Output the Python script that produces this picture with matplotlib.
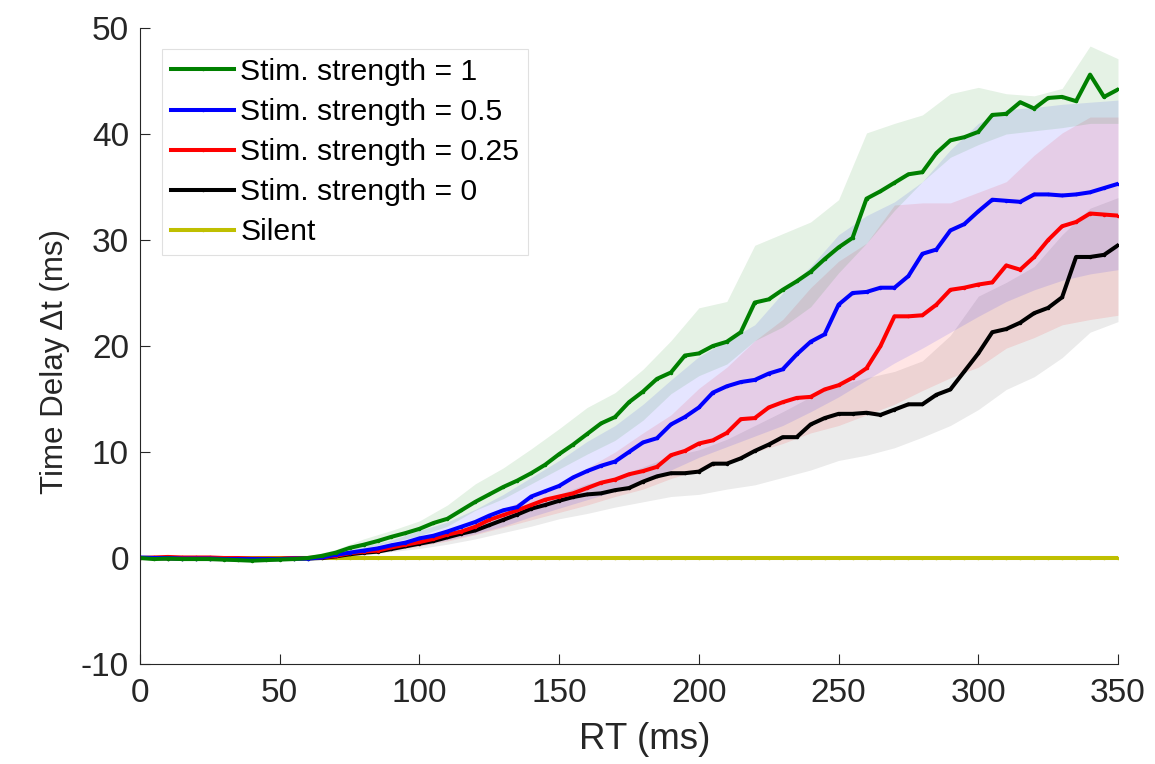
import numpy as np
import matplotlib
matplotlib.use("Agg")
import matplotlib.pyplot as plt

plt.rcParams['font.family'] = ['Liberation Sans', 'DejaVu Sans']
plt.rcParams['axes.unicode_minus'] = False

# ---- data ----
rt = list(range(0, 355, 5))
band_rt = list(range(0, 360, 10))

green = [0.0, -0.1, -0.05, -0.1, -0.1, -0.1, -0.15, -0.2, -0.25, -0.2, -0.15, -0.1, 0.0,
         0.2, 0.5, 0.95, 1.25, 1.6, 2.0, 2.35, 2.75, 3.3, 3.7, 4.5, 5.3, 6.0, 6.7, 7.3,
         8.0, 8.8, 9.8, 10.7, 11.7, 12.7, 13.3, 14.7, 15.7, 16.9, 17.5, 19.1, 19.3, 20.0,
         20.4, 21.3, 24.1, 24.4, 25.3, 26.1, 27.0, 28.2, 29.3, 30.2, 33.9, 34.6, 35.4,
         36.2, 36.4, 38.2, 39.4, 39.7, 40.2, 41.8, 41.9, 43.0, 42.4, 43.4, 43.5, 43.1,
         45.6, 43.5, 44.2]
blue = [0.05, 0.0, 0.0, -0.05, -0.05, -0.05, -0.1, -0.1, -0.1, -0.1, -0.1, -0.05, -0.05,
        0.05, 0.3, 0.5, 0.7, 0.9, 1.2, 1.45, 1.85, 2.1, 2.5, 2.95, 3.4, 4.0, 4.5, 4.8,
        5.8, 6.3, 6.8, 7.6, 8.2, 8.7, 9.1, 10.0, 10.9, 11.3, 12.6, 13.3, 14.2, 15.6,
        16.2, 16.6, 16.8, 17.4, 17.8, 19.2, 20.4, 21.1, 23.9, 25.0, 25.1, 25.5, 25.5,
        26.6, 28.7, 29.1, 30.9, 31.5, 32.7, 33.8, 33.7, 33.6, 34.3, 34.3, 34.2, 34.3,
        34.5, 34.9, 35.3]
red = [0.0, 0.05, 0.1, 0.05, 0.05, 0.05, 0.0, 0.0, -0.05, -0.05, -0.05, 0.0, 0.0,
       0.05, 0.2, 0.45, 0.6, 0.7, 1.0, 1.25, 1.5, 1.8, 2.2, 2.5, 2.95, 3.6, 4.05, 4.5,
       5.0, 5.5, 5.8, 6.1, 6.6, 7.1, 7.4, 7.9, 8.2, 8.6, 9.7, 10.1, 10.8, 11.1, 11.8,
       13.1, 13.2, 14.2, 14.7, 15.1, 15.2, 15.9, 16.3, 17.0, 17.9, 20.0, 22.8, 22.8,
       22.9, 23.9, 25.3, 25.5, 25.8, 26.0, 27.6, 27.2, 28.4, 30.0, 31.3, 31.7, 32.5,
       32.4, 32.3]
black = [0.0, 0.0, -0.05, -0.05, -0.05, -0.1, -0.1, -0.1, -0.1, -0.1, -0.1, -0.05, -0.05,
         0.0, 0.15, 0.35, 0.5, 0.6, 0.85, 1.1, 1.35, 1.6, 1.95, 2.3, 2.6, 3.1, 3.6, 4.1,
         4.65, 5.0, 5.4, 5.75, 6.0, 6.1, 6.4, 6.6, 7.2, 7.7, 8.0, 8.0, 8.15, 8.9, 8.9,
         9.4, 10.1, 10.7, 11.4, 11.4, 12.6, 13.2, 13.6, 13.6, 13.7, 13.5, 14.0, 14.5,
         14.5, 15.4, 15.9, 17.6, 19.3, 21.3, 21.6, 22.2, 23.1, 23.6, 24.6, 28.4, 28.4,
         28.6, 29.5]
silent = [0.0] * len(rt)

green_lo = [-0.1, -0.1, -0.2, -0.25, -0.4, -0.25, -0.1, 0.3, 0.9, 1.5, 2.1, 3.0, 4.5, 5.6,
            7.0, 8.4, 9.8, 11.1, 13.0, 15.5, 17.2, 18.3, 20.5, 21.8, 23.7, 26.9, 29.7,
            32.8, 35.5, 37.8, 39.0, 40.0, 40.3, 40.6, 41.0, 41.0]
green_hi = [0.1, 0.1, 0.05, 0.0, -0.1, 0.05, 0.15, 0.8, 1.8, 2.6, 3.5, 5.0, 7.0, 8.5,
            10.3, 12.2, 14.2, 15.6, 17.8, 20.5, 23.6, 24.2, 29.5, 30.6, 31.7, 33.8, 40.1,
            41.0, 41.8, 43.8, 44.4, 43.8, 43.6, 44.3, 48.3, 47.1]
blue_lo = [-0.05, -0.1, -0.15, -0.2, -0.25, -0.2, -0.15, 0.1, 0.4, 0.8, 1.2, 1.7, 2.3, 3.0,
           3.9, 4.7, 5.5, 6.3, 7.2, 8.3, 9.5, 10.5, 11.5, 12.5, 13.8, 15.2, 16.8, 18.4,
           19.8, 21.3, 22.8, 24.2, 25.3, 26.2, 26.8, 27.2]
blue_hi = [0.1, 0.1, 0.05, 0.05, 0.0, 0.05, 0.1, 0.5, 1.1, 1.7, 2.6, 3.4, 4.6, 6.0, 7.6,
           9.2, 11.0, 12.5, 14.5, 16.8, 19.0, 20.5, 22.0, 25.0, 27.5, 30.5, 32.3, 33.6,
           35.5, 38.5, 41.0, 42.3, 42.5, 42.8, 43.0, 43.2]
red_lo = [-0.1, -0.05, -0.05, -0.1, -0.15, -0.15, -0.1, 0.05, 0.3, 0.7, 1.1, 1.6, 2.2, 2.9,
          3.6, 4.3, 5.0, 5.8, 6.5, 7.5, 8.3, 9.0, 10.0, 10.8, 11.8, 12.5, 13.5, 14.5,
          15.8, 17.0, 18.0, 19.8, 20.8, 22.0, 22.5, 22.9]
red_hi = [0.1, 0.15, 0.15, 0.1, 0.05, 0.05, 0.1, 0.4, 0.9, 1.4, 1.9, 2.6, 3.5, 4.6, 5.8,
          7.0, 8.5, 10.0, 11.8, 13.5, 16.0, 18.0, 20.5, 22.5, 25.5, 28.0, 29.7, 33.3,
          33.5, 33.5, 34.5, 35.5, 38.0, 40.1, 41.6, 41.6]
black_lo = [-0.1, -0.1, -0.15, -0.2, -0.2, -0.2, -0.15, 0.0, 0.25, 0.6, 0.9, 1.3, 1.8, 2.4,
            3.0, 3.7, 4.2, 4.8, 5.3, 5.8, 6.0, 6.5, 6.9, 7.6, 8.3, 9.2, 9.7, 10.4, 11.4,
            12.5, 14.0, 15.9, 17.1, 18.9, 21.3, 22.3]
black_hi = [0.1, 0.05, 0.05, 0.0, 0.0, 0.0, 0.05, 0.3, 0.8, 1.2, 1.7, 2.3, 3.0, 3.9, 5.0,
            6.0, 7.0, 7.6, 8.6, 9.6, 10.2, 11.2, 12.5, 13.8, 15.2, 16.3, 17.0, 17.6, 18.6,
            21.0, 24.7, 26.0, 27.5, 30.5, 33.0, 34.0]

labels = ['Stim. strength = 1', 'Stim. strength = 0.5', 'Stim. strength = 0.25',
          'Stim. strength = 0', 'Silent']

# ---- figure ----
W, H = 1155, 764
fig = plt.figure(figsize=(W / 100, H / 100), dpi=100)
ax = fig.add_axes([140 / W, 1 - 664 / H, (1118 - 140) / W, (664 - 28) / H])

c_green, c_blue, c_red, c_black, c_yel = '#008000', '#0000FF', '#FF0000', '#000000', '#BFBF00'

for lo, hi, c, a in [(black_lo, black_hi, c_black, 0.08), (red_lo, red_hi, c_red, 0.1),
                     (blue_lo, blue_hi, c_blue, 0.1), (green_lo, green_hi, c_green, 0.1)]:
    ax.fill_between(band_rt, lo, hi, color=c, alpha=a, linewidth=0)

lw = 2.9
h_sil, = ax.plot(rt, silent, '.-', color=c_yel, lw=lw, ms=3)
h_k, = ax.plot(rt, black, '.-', color=c_black, lw=lw, ms=3)
h_r, = ax.plot(rt, red, '.-', color=c_red, lw=lw, ms=3)
h_b, = ax.plot(rt, blue, '.-', color=c_blue, lw=lw, ms=3)
h_g, = ax.plot(rt, green, '.-', color=c_green, lw=lw, ms=3)

ax.set_xlim(0, 350)
ax.set_ylim(-10, 50)
ax.set_xticks(range(0, 351, 50))
ax.set_yticks(range(-10, 51, 10))
for s in ['top', 'right']:
    ax.spines[s].set_visible(False)
axc = '#262626'
for s in ['left', 'bottom']:
    ax.spines[s].set_color(axc)
    ax.spines[s].set_linewidth(0.8)
ax.tick_params(direction='in', length=7, width=0.8, color=axc, labelcolor=axc,
               labelsize=24)
ax.tick_params(axis='x', pad=10)
ax.tick_params(axis='y', pad=8)

ax.set_xlabel('RT (ms)', fontsize=26.5, color=axc)
ax.set_ylabel('Time Delay Δt (ms)', fontsize=22.5, color=axc)
ax.xaxis.set_label_coords((645 - 140) / 978, (664 - 722) / 636)
ax.yaxis.set_label_coords((70 - 140) / 978, (664 - 361) / 636)

leg = ax.legend([h_g, h_b, h_r, h_k, h_sil], labels, loc='upper left',
                bbox_to_anchor=(162 / W, 1 - 49 / H), bbox_transform=fig.transFigure,
                borderaxespad=0, fontsize=21.7, handlelength=2.1, handletextpad=0.2,
                labelspacing=0.4, borderpad=0.3, frameon=True, fancybox=False)
leg.get_frame().set_edgecolor('#D9D9D9')
leg.get_frame().set_linewidth(0.8)

fig.savefig('out.png', dpi=100)
